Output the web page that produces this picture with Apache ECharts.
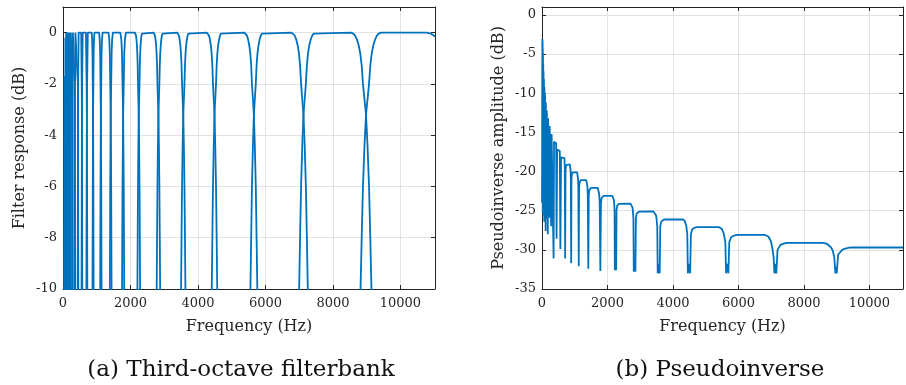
<!DOCTYPE html>
<html>
<head>
<meta charset="utf-8">
<script src="https://cdn.jsdelivr.net/npm/echarts@6/dist/echarts.min.js"></script>
<style>
html,body{margin:0;padding:0;background:#fff;}
#chart{width:906px;height:385px;}
</style>
</head>
<body>
<div id="chart"></div>
<script>
// ---------- tick labels / texts ----------
const FREQ_TICKS = [0, 2000, 4000, 6000, 8000, 10000];
const FILTER_DB_TICKS = [-10, -8, -6, -4, -2, 0];
const PINV_DB_TICKS = [-35, -30, -25, -20, -15, -10, -5, 0];
const PANEL_CAPTIONS = ['(a) Third-octave filterbank', '(b) Pseudoinverse'];
const X_TITLE = 'Frequency (Hz)';
const Y_TITLES = ['Filter response (dB)', 'Pseudoinverse amplitude (dB)'];

// ---------- (a) filter responses, [Hz, dB] ----------
const filterResponsesLow = [
  [[30,-15],[38,-6],[42,-1.7],[58,-1.7],[64,-6],[70,-15]],
  [[58,-15],[64,-6],[70,-0.2],[86,-0.2],[92,-6],[97,-15]],
  [[86,-15],[88,-3.2],[92,0],[106,0],[111,-3.2],[113,-15]],
  [[108,-15],[109,-10],[111,-3.2],[112,-2],[115,0],[134,0],[139,-2],[140,-3.2],[143,-10],[144,-15]],
  [[136,-15],[137,-10],[140,-3.2],[141,-2],[146,0],[170,0],[175,-2],[177,-3.2],[181,-10],[182,-15]],
  [[172,-15],[173,-10],[177,-3.2],[179,-2],[184,0],[214,0],[221,-2],[223,-3.2],[227,-10],[230,-15]],
  [[216,-15],[219,-10],[223,-3.2],[225,-2],[232,0],[270,0],[278,-2],[281,-3.2],[287,-10],[289,-15]],
  [[273,-15],[275,-10],[281,-3.2],[284,-2],[292,0],[340,0],[350,-2],[354,-3.2],[361,-10],[365,-15]],
  [[343,-15],[347,-10],[354,-3.2],[358,-2],[368,0],[427,0],[441,-2],[445,-3.2],[454,-10],[458,-15]],
  [[432,-15],[436,-10],[445,-3.2],[449,-2],[463,0],[539,0],[555,-2],[561,-3.2],[572,-10],[578,-15]],
  [[544,-15],[550,-10],[561,-3.2],[567,-2],[583,0],[679,0],[700,-2],[707,-3.2],[721,-10],[728,-15]],
  [[686,-15],[693,-10],[707,-3.2],[714,-2],[735,0],[850,0],[864,-0.27],[874,-0.8],[882,-2],[891,-3.2],[900,-6],[907,-10],[913,-15]]
];
const filterResponsesMid = [
  [[869,-15],[875,-10],[882,-6],[891,-3.2],[900,-2],[908,-0.8],[918,-0.27],[932,0],
   [1070,0],[1088,-0.27],[1101,-0.8],[1111,-2],[1122,-3.2],[1133,-6],[1142,-10],[1150,-15]],
  [[1094,-15],[1102,-10],[1111,-6],[1122,-3.2],[1133,-2],[1143,-0.8],[1156,-0.27],[1174,0],
   [1349,0],[1372,-0.27],[1387,-0.8],[1400,-2],[1414,-3.2],[1428,-6],[1439,-10],[1449,-15]],
  [[1379,-15],[1389,-10],[1400,-6],[1414,-3.2],[1428,-2],[1441,-0.8],[1456,-0.27],[1479,0],
   [1700,0],[1729,-0.27],[1748,-0.8],[1764,-2],[1782,-3.2],[1800,-6],[1814,-10],[1827,-15]],
  [[1737,-15],[1750,-10],[1764,-6],[1782,-3.2],[1800,-2],[1816,-0.8],[1835,-0.27],[1864,0],
   [2133,0],[2151,-0.04],[2164,-0.12],[2178,-0.27],[2191,-0.5],[2202,-0.8],[2214,-1.3],[2223,-2],[2234,-2.6],[2245,-3.2],[2256,-4.4],[2267,-6],[2276,-7.9],[2285,-10],[2301,-15]]
];
const filterResponsesHigh = [
  [[2189,-15],[2205,-10],[2214,-7.9],[2223,-6],[2234,-4.4],[2245,-3.2],[2256,-2.6],[2267,-2],[2276,-1.3],[2288,-0.8],[2299,-0.5],[2312,-0.27],[2326,-0.12],[2339,-0.04],[2357,0],
   [2687,0],[2709,-0.04],[2726,-0.12],[2743,-0.27],[2760,-0.5],[2774,-0.8],[2788,-1.3],[2800,-2],[2814,-2.6],[2828,-3.2],[2842,-4.4],[2856,-6],[2868,-7.9],[2879,-10],[2899,-15]],
  [[2757,-15],[2777,-10],[2788,-7.9],[2800,-6],[2814,-4.4],[2828,-3.2],[2842,-2.6],[2856,-2],[2868,-1.3],[2882,-0.8],[2896,-0.5],[2913,-0.27],[2930,-0.12],[2947,-0.04],[2969,0],
   [3386,0],[3414,-0.04],[3436,-0.12],[3457,-0.27],[3478,-0.5],[3496,-0.8],[3514,-1.3],[3528,-2],[3546,-2.6],[3564,-3.2],[3582,-4.4],[3600,-6],[3614,-7.9],[3628,-10],[3653,-15]],
  [[3475,-15],[3500,-10],[3514,-7.9],[3528,-6],[3546,-4.4],[3564,-3.2],[3582,-2.6],[3600,-2],[3614,-1.3],[3632,-0.8],[3650,-0.5],[3671,-0.27],[3692,-0.12],[3714,-0.04],[3742,0],
   [4266,0],[4301,-0.04],[4328,-0.12],[4355,-0.27],[4382,-0.5],[4405,-0.8],[4427,-1.3],[4445,-2],[4468,-2.6],[4490,-3.2],[4512,-4.4],[4535,-6],[4553,-7.9],[4571,-10],[4602,-15]],
  [[4378,-15],[4409,-10],[4427,-7.9],[4445,-6],[4468,-4.4],[4490,-3.2],[4512,-2.6],[4535,-2],[4553,-1.3],[4575,-0.8],[4598,-0.5],[4625,-0.27],[4652,-0.12],[4679,-0.04],[4715,0],
   [5374,0],[5419,-0.04],[5453,-0.12],[5487,-0.27],[5521,-0.5],[5550,-0.8],[5578,-1.3],[5600,-2],[5629,-2.6],[5657,-3.2],[5685,-4.4],[5714,-6],[5736,-7.9],[5759,-10],[5798,-15]],
  [[5516,-15],[5555,-10],[5578,-7.9],[5600,-6],[5629,-4.4],[5657,-3.2],[5685,-2.6],[5714,-2],[5736,-1.3],[5764,-0.8],[5793,-0.5],[5827,-0.27],[5861,-0.12],[5895,-0.04],[5940,0],
   [6771,0],[6828,-0.04],[6870,-0.12],[6913,-0.27],[6956,-0.5],[6992,-0.8],[7027,-1.3],[7056,-2],[7091,-2.6],[7127,-3.2],[7163,-4.4],[7198,-6],[7227,-7.9],[7255,-10],[7305,-15]],
  [[6949,-15],[6999,-10],[7027,-7.9],[7056,-6],[7091,-4.4],[7127,-3.2],[7163,-2.6],[7198,-2],[7227,-1.3],[7262,-0.8],[7298,-0.5],[7341,-0.27],[7384,-0.12],[7426,-0.04],[7483,0],
   [8531,0],[8603,-0.04],[8657,-0.12],[8711,-0.27],[8764,-0.5],[8809,-0.8],[8854,-1.3],[8890,-2],[8935,-2.6],[8980,-3.2],[9025,-4.4],[9070,-6],[9106,-7.9],[9142,-10],[9205,-15]],
  [[8756,-15],[8818,-10],[8854,-7.9],[8890,-6],[8935,-4.4],[8980,-3.2],[9025,-2.6],[9070,-2],[9106,-1.3],[9151,-0.8],[9196,-0.5],[9249,-0.27],[9303,-0.12],[9357,-0.04],[9429,0],
   [10780,0],[10900,-0.04],[10970,-0.09],[11025,-0.15]]
];

// ---------- (b) pseudoinverse amplitude, [Hz, dB] ----------
const pseudoinverseLow = [
  [0,-24],[6,-12],[11,-3.1],[19,-3.5],[22,-25.2],[24,-4.3],[27,-4.5],[28,-25.4],[30,-5.2],[34,-5.4],
  [35,-24.6],[38,-6.2],[43,-6.4],[44,-25.0],[47,-7.2],[54,-7.4],[56,-25.6],[59,-8.2],[68,-8.4],
  [70,-26.4],[74,-9.2],[86,-9.4],[88,-25.4],[93,-10.2],[108,-10.4],[111,-27.6],[117,-11.2],[136,-11.4],
  [140,-26.0],[147,-12.2],[172,-12.4],[177,-28.0],[186,-13.2],[217,-13.4],[223,-25.9],[234,-14.2],
  [273,-14.4],[281,-27.0],[293,-15.2],[343,-15.4],[354,-31.1],[368,-16.2],[432,-16.4],[445,-28.6],
  [462,-17.2],[544,-17.4],[561,-29.9],[582,-18.2],[686,-18.3],[696,-19.5],[707,-31.1],[718,-20.0],[735,-19.2]
];
const pseudoinverseMid = [
  [851,-19.1],[864,-19.3],[874,-19.9],[881,-21.0],[891,-31.7],[900,-21.0],[910,-20.4],[922,-20.2],[940,-20.1],
  [1072,-20.1],[1088,-20.3],[1101,-20.9],[1110,-22.0],[1122,-32.1],[1133,-22.0],[1146,-21.4],[1161,-21.2],[1184,-21.1],
  [1350,-21.1],[1372,-21.3],[1387,-21.9],[1398,-23.0],[1414,-32.4],[1428,-23.0],[1444,-22.4],[1463,-22.2],[1492,-22.1],
  [1702,-22.1],[1729,-22.3],[1748,-22.9],[1762,-24.0],[1782,-32.7],[1800,-24.0],[1819,-23.4],[1844,-23.2],[1880,-23.1]
];
const pseudoinverseHigh = [
  [2144,-23.1],[2162,-23.17],[2178,-23.3],[2191,-23.55],[2202,-23.9],[2216,-25.0],[2225,-32.6],[2245,-31.4],[2265,-32.6],[2276,-25.0],[2292,-24.4],[2308,-24.27],[2324,-24.2],[2346,-24.13],[2368,-24.1],
  [2701,-24.1],[2723,-24.17],[2743,-24.3],[2760,-24.55],[2774,-24.9],[2792,-26.0],[2803,-32.8],[2828,-31.6],[2853,-32.8],[2867,-26.0],[2887,-25.4],[2907,-25.27],[2927,-25.2],[2955,-25.13],[2984,-25.1],
  [3404,-25.1],[3432,-25.17],[3457,-25.3],[3478,-25.55],[3496,-25.9],[3520,-27.0],[3534,-33],[3564,-31.8],[3594,-33],[3612,-27.0],[3639,-26.4],[3664,-26.27],[3689,-26.2],[3724,-26.13],[3760,-26.1],
  [4288,-26.1],[4324,-26.17],[4355,-26.3],[4382,-26.55],[4405,-26.9],[4437,-28.0],[4455,-33],[4490,-31.8],[4525,-33],[4547,-28.0],[4584,-27.4],[4616,-27.27],[4647,-27.2],[4692,-27.13],[4737,-27.1],
  [5402,-27.1],[5448,-27.17],[5487,-27.3],[5521,-27.55],[5550,-27.9],[5599,-29.0],[5622,-33],[5657,-31.8],[5692,-33],[5720,-29.0],[5776,-28.4],[5815,-28.27],[5855,-28.2],[5912,-28.13],[5968,-28.1],
  [6806,-28.1],[6863,-28.17],[6913,-28.3],[6956,-28.55],[6992,-28.9],[7040,-29.9],[7075,-31.0],[7097,-33],[7127,-31.8],[7157,-33],[7193,-30.0],[7277,-29.4],[7326,-29.27],[7376,-29.2],[7447,-29.13],[7519,-29.1],
  [8576,-29.1],[8648,-29.17],[8711,-29.25],[8770,-29.4],[8830,-29.7],[8880,-30.1],[8927,-31.0],[8960,-33],[8980,-32.2],[9000,-33],[9045,-30.6],[9169,-30.0],[9231,-29.87],[9294,-29.8],[9384,-29.73],[9474,-29.7],[11025,-29.7]
];

// ---------- styling ----------
const FONT = '"DejaVu Serif", "Liberation Serif", serif';
const LINE_COLOR = '#0072BD';
const AXIS_COLOR = '#262626';
const GRID_COLOR = '#e2e2e2';
const F_MAX = 11025;

function xAxisDef(grid, pos, main) {
  return {
    type: 'value', gridIndex: grid, position: pos, min: 0, max: F_MAX, interval: 2000,
    axisLine: { show: true, onZero: false, lineStyle: { color: AXIS_COLOR, width: 1 } },
    axisTick: { show: true, inside: true, length: 4, lineStyle: { color: AXIS_COLOR } },
    axisLabel: main ? {
      show: true, margin: 8, color: AXIS_COLOR, fontFamily: FONT, fontSize: 13,
      formatter: v => FREQ_TICKS.includes(v) ? String(v) : ''
    } : { show: false },
    splitLine: { show: main, lineStyle: { color: GRID_COLOR, width: 1 } },
    name: main ? X_TITLE : '', nameLocation: 'middle', nameGap: 30,
    nameTextStyle: { color: AXIS_COLOR, fontFamily: FONT, fontSize: 16 }
  };
}
function yAxisDef(grid, pos, main, min, interval, ticks, title, gap) {
  return {
    type: 'value', gridIndex: grid, position: pos, min: min, max: 1, interval: interval,
    axisLine: { show: true, onZero: false, lineStyle: { color: AXIS_COLOR, width: 1 } },
    axisTick: { show: true, inside: true, length: 4, lineStyle: { color: AXIS_COLOR } },
    axisLabel: main ? {
      show: true, margin: 6, color: AXIS_COLOR, fontFamily: FONT, fontSize: 13,
      formatter: v => ticks.includes(v) ? String(v) : ''
    } : { show: false },
    splitLine: { show: main, lineStyle: { color: GRID_COLOR, width: 1 } },
    name: main ? title : '', nameLocation: 'middle', nameGap: gap,
    nameTextStyle: { color: AXIS_COLOR, fontFamily: FONT, fontSize: 16 }
  };
}

const lineBase = {
  type: 'line', showSymbol: false, symbol: 'none', clip: true, smooth: false,
  lineStyle: { color: LINE_COLOR, width: 1.8 }, itemStyle: { color: LINE_COLOR },
  emphasis: { disabled: true }, silent: true
};

const series = [];
filterResponsesLow.concat(filterResponsesMid, filterResponsesHigh).forEach(pts => {
  series.push(Object.assign({}, lineBase, { xAxisIndex: 0, yAxisIndex: 0, data: pts }));
});
series.push(Object.assign({}, lineBase, {
  xAxisIndex: 2, yAxisIndex: 2,
  data: pseudoinverseLow.concat(pseudoinverseMid, pseudoinverseHigh)
}));

const option = {
  animation: false,
  backgroundColor: '#ffffff',
  grid: [
    { left: 63, top: 7, width: 372, height: 282 },
    { left: 542, top: 7, width: 370, height: 282 }
  ],
  xAxis: [
    xAxisDef(0, 'bottom', true), xAxisDef(0, 'top', false),
    xAxisDef(1, 'bottom', true), xAxisDef(1, 'top', false)
  ],
  yAxis: [
    yAxisDef(0, 'left', true, -10, 2, FILTER_DB_TICKS, Y_TITLES[0], 35),
    yAxisDef(0, 'right', false, -10, 2, FILTER_DB_TICKS, '', 0),
    yAxisDef(1, 'left', true, -35, 5, PINV_DB_TICKS, Y_TITLES[1], 35),
    yAxisDef(1, 'right', false, -35, 5, PINV_DB_TICKS, '', 0)
  ],
  series: series,
  graphic: [
    { type: 'text', x: 241, y: 370, silent: true,
      style: { text: PANEL_CAPTIONS[0], font: '23px ' + FONT, fill: '#111',
               align: 'center', verticalAlign: 'middle', textAlign: 'center', textVerticalAlign: 'middle' } },
    { type: 'text', x: 720, y: 370, silent: true,
      style: { text: PANEL_CAPTIONS[1], font: '23px ' + FONT, fill: '#111',
               align: 'center', verticalAlign: 'middle', textAlign: 'center', textVerticalAlign: 'middle' } }
  ]
};

const chart = echarts.init(document.getElementById('chart'), null, { renderer: 'canvas' });
chart.setOption(option);
</script>
</body>
</html>
